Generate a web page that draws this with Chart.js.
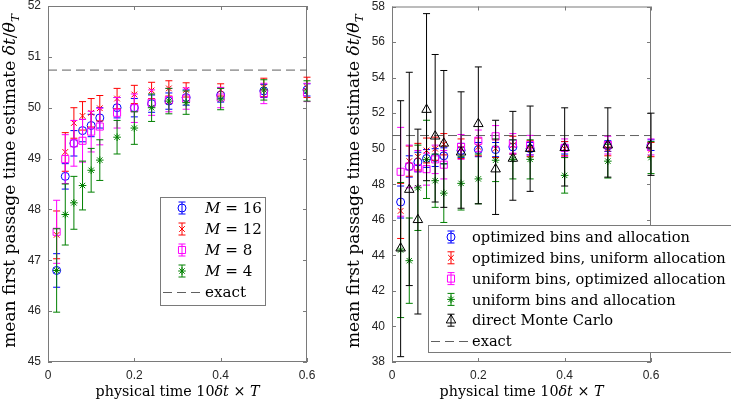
<!DOCTYPE html>
<html lang="en">
<head>
<meta charset="UTF-8">
<title>Mean first passage time estimates</title>
<script src="https://cdn.jsdelivr.net/npm/chart.js"></script>
<style>
  body { margin: 0; background: #ffffff; }
  #wrap { position: relative; width: 731px; height: 402px; overflow: hidden; }
  canvas { position: absolute; top: 0; }
  #left { left: 0; }
  #right { left: 340px; }
</style>
</head>
<body>
<div id="wrap">
  <canvas id="left"></canvas>
  <canvas id="right"></canvas>
</div>
<script>
// physical time 10*dt*T, shared by every series
const times = [0.02, 0.04, 0.06, 0.08, 0.1, 0.12, 0.16, 0.2, 0.24, 0.28, 0.32, 0.4, 0.5, 0.6];
const exactValue = 50.74;
const xTicks = [0, 0.2, 0.4, 0.6];
const leftYTicks = [45, 46, 47, 48, 49, 50, 51, 52];
const rightYTicks = [38, 40, 42, 44, 46, 48, 50, 52, 54, 56, 58];

// left panel: number of bins M
const m16    = [46.8, 48.65, 49.3, 49.55, 49.65, 49.8, 50.0, 50.0, 50.08, 50.13, 50.2, 50.25, 50.33, 50.35];
const m16Err = [0.33, 0.25, 0.25, 0.22, 0.22, 0.2, 0.2, 0.18, 0.17, 0.16, 0.15, 0.14, 0.13, 0.12];
const m12    = [47.5, 49.13, 49.7, 49.84, 49.9, 49.99, 50.18, 50.26, 50.34, 50.38, 50.35, 50.35, 50.4, 50.4];
const m12Err = [0.47, 0.38, 0.3, 0.28, 0.28, 0.25, 0.2, 0.18, 0.16, 0.15, 0.14, 0.12, 0.18, 0.2];
const m8     = [47.56, 48.99, 49.3, 49.35, 49.53, 49.63, 49.9, 49.99, 50.1, 50.15, 50.18, 50.2, 50.28, 50.3];
const m8Err  = [0.62, 0.48, 0.45, 0.42, 0.4, 0.36, 0.3, 0.28, 0.25, 0.23, 0.21, 0.2, 0.2, 0.18];
const m4     = [46.8, 47.9, 48.13, 48.47, 48.77, 48.97, 49.42, 49.6, 50.0, 50.13, 50.1, 50.17, 50.35, 50.33];
const m4Err  = [0.82, 0.6, 0.52, 0.48, 0.43, 0.4, 0.33, 0.32, 0.27, 0.25, 0.23, 0.21, 0.2, 0.2];

// right panel: binning / allocation strategies
const optBoth        = [47.0, 49.0, 49.25, 49.45, 49.5, 49.6, 49.9, 49.95, 49.95, 50.1, 50.0, 50.05, 50.15, 50.2];
const optBothErr     = [0.9, 0.6, 0.55, 0.5, 0.5, 0.45, 0.4, 0.4, 0.4, 0.4, 0.35, 0.35, 0.3, 0.3];
const optBinsUnif    = [46.5, 49.3, 49.55, 49.9, 50.0, 50.25, 50.0, 50.1, 50.0, 50.2, 50.0, 50.0, 50.0, 49.95];
const optBinsUnifErr = [1.55, 0.85, 0.75, 0.7, 0.65, 0.6, 0.55, 0.5, 0.5, 0.5, 0.45, 0.4, 0.4, 0.4];
const unifBinsOpt    = [48.7, 49.0, 48.9, 48.85, 49.4, 49.1, 50.1, 50.45, 50.7, 50.3, 50.2, 50.05, 50.2, 50.1];
const unifBinsOptErr = [2.5, 1.2, 1.0, 0.9, 0.8, 0.8, 0.7, 0.6, 0.6, 0.55, 0.55, 0.5, 0.5, 0.45];
const unifBoth       = [44.3, 43.7, 47.8, 49.4, 48.2, 47.5, 48.05, 48.3, 49.35, 49.4, 49.4, 48.5, 49.3, 49.5];
const unifBothErr    = [3.8, 2.4, 2.4, 2.2, 1.5, 1.65, 1.5, 1.4, 1.2, 1.1, 1.1, 1.0, 0.95, 0.9];
const monteCarlo     = [44.4, 47.7, 46.0, 52.2, 50.7, 50.3, 49.8, 51.4, 48.85, 49.45, 50.0, 50.05, 50.2, 50.2];
const monteCarloLow  = [38.3, 42.3, 40.7, 48.2, 47.0, 46.7, 46.65, 46.9, 46.3, 47.1, 47.6, 47.9, 48.4, 48.5];
const monteCarloHigh = [52.7, 54.3, 51.1, 57.6, 55.3, 54.4, 53.2, 54.6, 51.6, 52.1, 52.4, 52.3, 52.3, 52.0];

const serif = '"DejaVu Serif", "Liberation Serif", serif';
const sans = '"Liberation Sans", Arial, sans-serif';
const frameColor = '#7a7a7a';

function series(vals, lo, hi, color, style, radius, order) {
    return {
        data: times.map((t, i) => ({ x: t, y: vals[i] })),
        lo: lo, hi: hi,
        showLine: false,
        borderColor: color,
        backgroundColor: 'rgba(0,0,0,0)',
        pointStyle: style,
        pointRadius: radius,
        pointBorderWidth: 1,
        order: order
    };
}
function sym(vals, err, color, style, radius, order) {
    return series(vals, vals.map((v, i) => v - err[i]), vals.map((v, i) => v + err[i]),
        color, style, radius, order);
}
function exactLine() {
    return {
        data: [{ x: 0, y: exactValue }, { x: 0.6, y: exactValue }],
        showLine: true,
        borderColor: '#606060',
        borderWidth: 1,
        borderDash: [9, 5],
        pointRadius: 0,
        order: 20
    };
}

// rich text helpers (italic / subscript pieces)
function fontFor(p, size) {
    const s = p.sub ? size * 0.7 : size;
    return (p.it ? 'italic ' : '') + s + 'px ' + serif;
}
function richWidth(ctx, parts, size) {
    let w = 0;
    parts.forEach(p => { ctx.font = fontFor(p, size); w += ctx.measureText(p.t).width; });
    return w;
}
function fitSize(ctx, parts, width) {
    return 16 * width / richWidth(ctx, parts, 16);
}
function drawRich(ctx, parts, x, y, size, center) {
    let cx = center ? x - richWidth(ctx, parts, size) / 2 : x;
    ctx.textBaseline = 'alphabetic';
    ctx.textAlign = 'left';
    parts.forEach(p => {
        ctx.font = fontFor(p, size);
        ctx.fillText(p.t, cx, y + (p.sub ? size * 0.22 : 0));
        cx += ctx.measureText(p.t).width;
    });
}

const yTitle = [{ t: 'mean first passage time estimate ' }, { t: 'δt', it: true }, { t: '/' },
    { t: 'θ', it: true }, { t: 'T', it: true, sub: true }];
const xTitle = [{ t: 'physical time 10' }, { t: 'δt', it: true }, { t: ' × ' }, { t: 'T', it: true }];

// vertical error bars, drawn just before each dataset's markers
const errorBars = {
    id: 'errorBars',
    beforeDatasetDraw(chart, args) {
        const ds = chart.data.datasets[args.index];
        if (!ds.lo) return;
        const { ctx, chartArea: a, scales: { x, y } } = chart;
        ctx.save();
        ctx.beginPath();
        ctx.rect(a.left - 10, a.top, a.right - a.left + 20, a.bottom - a.top);
        ctx.clip();
        ctx.strokeStyle = ds.borderColor;
        ctx.lineWidth = 1;
        ds.data.forEach((p, i) => {
            const px = x.getPixelForValue(p.x);
            const y1 = y.getPixelForValue(ds.lo[i]);
            const y2 = y.getPixelForValue(ds.hi[i]);
            ctx.beginPath();
            ctx.moveTo(px, y1); ctx.lineTo(px, y2);
            ctx.moveTo(px - 3.5, y1); ctx.lineTo(px + 3.5, y1);
            ctx.moveTo(px - 3.5, y2); ctx.lineTo(px + 3.5, y2);
            ctx.stroke();
        });
        ctx.restore();
    }
};

// axes box with inward ticks, axis titles, legend
const panelDeco = {
    id: 'panelDeco',
    beforeDatasetsDraw(chart) {
        const { ctx, chartArea: a, scales: { x, y } } = chart;
        ctx.save();
        ctx.strokeStyle = frameColor;
        ctx.lineWidth = 1;
        ctx.strokeRect(a.left + 0.5, a.top + 0.5, a.right - a.left - 1, a.bottom - a.top - 1);
        ctx.beginPath();
        x.ticks.forEach(t => {
            const px = Math.round(x.getPixelForValue(t.value)) + 0.5;
            ctx.moveTo(px, a.bottom); ctx.lineTo(px, a.bottom - 4);
            ctx.moveTo(px, a.top); ctx.lineTo(px, a.top + 4);
        });
        y.ticks.forEach(t => {
            const py = Math.round(y.getPixelForValue(t.value)) + 0.5;
            ctx.moveTo(a.left, py); ctx.lineTo(a.left + 4, py);
            ctx.moveTo(a.right, py); ctx.lineTo(a.right - 4, py);
        });
        ctx.stroke();
        ctx.restore();
    },
    afterDraw(chart, args, opts) {
        const { ctx, chartArea: a } = chart;
        ctx.save();
        ctx.fillStyle = '#000000';
        // titles
        drawRich(ctx, xTitle, (a.left + a.right) / 2, 396, fitSize(ctx, xTitle, 164), true);
        ctx.save();
        ctx.translate(opts.yTitleX, (a.top + a.bottom) / 2 - 3);
        ctx.rotate(-Math.PI / 2);
        drawRich(ctx, yTitle, 0, 0, fitSize(ctx, yTitle, opts.yTitleLen), true);
        ctx.restore();

        // legend
        const L = opts.legend;
        const size = fitSize(ctx, L.entries[L.fitEntry].parts, L.fitWidth);
        ctx.fillStyle = '#ffffff';
        ctx.fillRect(L.left, L.top, L.right - L.left, L.bottom - L.top);
        ctx.strokeStyle = frameColor;
        ctx.lineWidth = 1;
        ctx.strokeRect(L.left + 0.5, L.top + 0.5, L.right - L.left, L.bottom - L.top);
        L.entries.forEach((e, i) => {
            const ry = L.rowY + i * L.rowH;
            const ds = chart.data.datasets[e.ds];
            if (e.exact) {
                ctx.strokeStyle = ds.borderColor;
                ctx.setLineDash(ds.borderDash);
                ctx.beginPath();
                ctx.moveTo(L.left + 3, ry + 0.5); ctx.lineTo(L.textX - 2, ry + 0.5);
                ctx.stroke();
                ctx.setLineDash([]);
            } else {
                ctx.strokeStyle = ds.borderColor;
                ctx.fillStyle = ds.backgroundColor;
                ctx.lineWidth = 1;
                ctx.beginPath();
                ctx.moveTo(L.iconX, ry - 6); ctx.lineTo(L.iconX, ry + 6);
                ctx.moveTo(L.iconX - 3.5, ry - 6); ctx.lineTo(L.iconX + 3.5, ry - 6);
                ctx.moveTo(L.iconX - 3.5, ry + 6); ctx.lineTo(L.iconX + 3.5, ry + 6);
                ctx.stroke();
                Chart.helpers.drawPoint(ctx, { pointStyle: ds.pointStyle, radius: ds.pointRadius, rotation: 0, borderWidth: 1 }, L.iconX, ry);
            }
            ctx.fillStyle = '#000000';
            drawRich(ctx, e.parts, L.textX, ry + size * 0.36, size, false);
        });
        ctx.restore();
    }
};

function panel(canvasId, w, datasets, yMin, yMax, yTicks, axisWidth, rightPad, deco) {
    const canvas = document.getElementById(canvasId);
    canvas.width = w; canvas.height = 402;
    canvas.style.width = w + 'px'; canvas.style.height = '402px';
    return new Chart(canvas.getContext('2d'), {
        type: 'scatter',
        data: { datasets: datasets },
        plugins: [errorBars, panelDeco],
        options: {
            responsive: false,
            animation: false,
            devicePixelRatio: 1,
            layout: { padding: { top: 4, right: rightPad, bottom: 0, left: 0 } },
            plugins: {
                legend: { display: false },
                tooltip: { enabled: false },
                panelDeco: deco
            },
            scales: {
                x: {
                    type: 'linear', min: 0, max: 0.6,
                    afterBuildTicks: s => { s.ticks = xTicks.map(v => ({ value: v })); },
                    afterFit: s => { s.height = 40; s.paddingLeft = 0; s.paddingRight = 0; },
                    grid: { display: false, drawTicks: false },
                    border: { display: false },
                    ticks: {
                        autoSkip: false, maxRotation: 0, padding: 6,
                        color: '#262626', font: { family: sans, size: 12 },
                        callback: v => String(v)
                    }
                },
                y: {
                    type: 'linear', min: yMin, max: yMax,
                    afterBuildTicks: s => { s.ticks = yTicks.map(v => ({ value: v })); },
                    afterFit: s => { s.width = axisWidth; s.paddingTop = 4; s.paddingBottom = 0; },
                    grid: { display: false, drawTicks: false },
                    border: { display: false },
                    ticks: {
                        autoSkip: false, padding: 7,
                        color: '#262626', font: { family: sans, size: 12 },
                        callback: v => String(v)
                    }
                }
            }
        }
    });
}

const leftSets = [
    sym(m16, m16Err, '#0000ff', 'circle', 4, 4),
    sym(m12, m12Err, '#ff0000', 'crossRot', 4, 3),
    sym(m8, m8Err, '#ff00ff', 'rect', 5, 2),
    sym(m4, m4Err, '#008000', 'star', 3.8, 1),
    exactLine()
];
panel('left', 340, leftSets, 45, 52, leftYTicks, 48, 33, {
    yTitleX: 15, yTitleLen: 334,
    legend: {
        left: 160, top: 197, right: 265, bottom: 305,
        iconX: 182, textX: 205, rowY: 208, rowH: 21, fitEntry: 0, fitWidth: 57,
        entries: [
            { ds: 0, parts: [{ t: 'M', it: true }, { t: ' = 16' }] },
            { ds: 1, parts: [{ t: 'M', it: true }, { t: ' = 12' }] },
            { ds: 2, parts: [{ t: 'M', it: true }, { t: ' = 8' }] },
            { ds: 3, parts: [{ t: 'M', it: true }, { t: ' = 4' }] },
            { ds: 4, exact: true, parts: [{ t: 'exact' }] }
        ]
    }
});

const rightSets = [
    sym(optBoth, optBothErr, '#0000ff', 'circle', 4, 5),
    sym(optBinsUnif, optBinsUnifErr, '#ff0000', 'crossRot', 4, 4),
    sym(unifBinsOpt, unifBinsOptErr, '#ff00ff', 'rect', 5, 3),
    sym(unifBoth, unifBothErr, '#008000', 'star', 3.8, 2),
    series(monteCarlo, monteCarloLow, monteCarloHigh, '#000000', 'triangle', 5.5, 1),
    exactLine()
];
panel('right', 391, rightSets, 38, 58, rightYTicks, 52, 80, {
    yTitleX: 19, yTitleLen: 334,
    legend: {
        left: 88, top: 225, right: 420, bottom: 352,
        iconX: 111, textX: 132, rowY: 237, rowH: 20.8, fitEntry: 1, fitWidth: 254,
        entries: [
            { ds: 0, parts: [{ t: 'optimized bins and allocation' }] },
            { ds: 1, parts: [{ t: 'optimized bins, uniform allocation' }] },
            { ds: 2, parts: [{ t: 'uniform bins, optimized allocation' }] },
            { ds: 3, parts: [{ t: 'uniform bins and allocation' }] },
            { ds: 4, parts: [{ t: 'direct Monte Carlo' }] },
            { ds: 5, exact: true, parts: [{ t: 'exact' }] }
        ]
    }
});
</script>
</body>
</html>
